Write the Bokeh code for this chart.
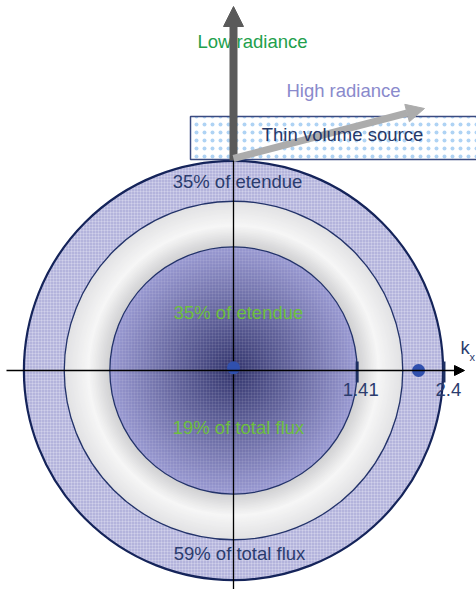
import numpy as np
from bokeh.plotting import figure
from bokeh.models import Range1d, Arrow, NormalHead, Label
from bokeh.core.properties import value
from bokeh.embed import file_html
from bokeh.resources import INLINE

# ---- data ----
ring_radii = [1.41, 1.93, 2.39]          # inner disk, middle ring, outer ring (k units)
tick_vals = [1.41, 2.4]
tick_labels = ["1.41", "2.4"]
dot_k = [0.0, 2.11]
inner_labels = ["35% of etendue", "19% of total flux"]
outer_labels = ["35% of etendue", "59% of total flux"]
arrow_labels = ["Low radiance", "High radiance"]
source_label = "Thin volume source"
axis_label = "k"
axis_sub = "x"

# ---- layout helpers (pixel -> data) ----
W, H = 476, 589
S = 87.7
CX, CY = 233.0, 370.0
def px(x): return (x - CX) / S
def py(y): return (CY - y) / S

FONT = value("Liberation Sans")
FS = "18.5px"
NAVY = "#2b3c6e"
GREEN_D = "#22a04c"
GREEN_L = "#6cbf3e"

p = figure(width=W, height=H, x_range=Range1d(px(0), px(W)), y_range=Range1d(py(H), py(0)),
           output_backend="svg", toolbar_location=None, min_border=0,
           x_axis_location=None, y_axis_location=None)
p.grid.visible = False
p.outline_line_color = None
p.background_fill_color = "white"
p.border_fill_color = "white"

r_in, r_mid, r_out = ring_radii

def lerp(c1, c2, t):
    return "#%02x%02x%02x" % tuple(int(round(a + (b - a) * t)) for a, b in zip(c1, c2))

# outer ring
p.circle(x=0, y=0, radius=r_out, fill_color="#b4b4dc", line_color=None,
         hatch_pattern="cross", hatch_color="white", hatch_alpha=0.22, hatch_scale=3, hatch_weight=1)

# middle ring gradient (light gray)
n = 30
rs = np.linspace(r_mid, r_in, n)
cols = []
for r in rs:
    if r > 1.66:
        t = (r_mid - r) / (r_mid - 1.66)
        cols.append(lerp((226, 226, 228), (246, 246, 246), t))
    else:
        t = (1.66 - r) / (1.66 - r_in)
        cols.append(lerp((246, 246, 246), (206, 206, 208), t))
p.circle(x=[0] * n, y=[0] * n, radius=list(rs), fill_color=cols, line_color=None)

# inner disk gradient
n2 = 45
rs2 = np.linspace(r_in, 0.02, n2)
cols2 = [lerp((50, 52, 108), (152, 152, 208), (r / r_in) ** 1.0) for r in rs2]
p.circle(x=[0] * n2, y=[0] * n2, radius=list(rs2), fill_color=cols2, line_color=None)
p.circle(x=0, y=0, radius=r_in, fill_color=None, line_color=None,
         hatch_pattern="cross", hatch_color="white", hatch_alpha=0.08, hatch_scale=3, hatch_weight=1)

# circle outlines
p.circle(x=[0, 0, 0], y=[0, 0, 0], radius=ring_radii, fill_color=None,
         line_color=["#23336a", "#23336a", "#15245a"], line_width=[1.3, 1.3, 2.2])

# axes
p.segment(x0=[0], y0=[py(160)], x1=[0], y1=[py(H + 2)], line_color="black", line_width=1.3)
p.add_layout(Arrow(x_start=px(6), y_start=0, x_end=px(464), y_end=0, line_color="black", line_width=1.3,
                   end=NormalHead(size=10, fill_color="black", line_color="black", line_width=1)))

# ticks
p.segment(x0=tick_vals, y0=[py(361)] * 2, x1=tick_vals, y1=[py(382)] * 2, line_color="#1d2f62", line_width=3)

# dots
p.scatter(x=dot_k, y=[0.03, 0.0], size=13, fill_color="#3050ae", line_color=None)

# source box
p.quad(left=px(190), right=px(482), top=py(116), bottom=py(159), fill_color="white",
       line_color="#3a4a80", line_width=1.5,
       hatch_pattern="dot", hatch_color="#94c4f0", hatch_alpha=0.75, hatch_scale=8, hatch_weight=1.2)

# texts under arrows
p.text(x=[px(252), px(343)], y=[py(41), py(90)], text=arrow_labels, text_color=[GREEN_D, "#8a8acc"],
       text_font=FONT, text_font_size=FS, text_align="center", text_baseline="middle")
p.text(x=[px(238), px(238)], y=[py(312), py(427)], text=inner_labels, text_color=GREEN_L,
       text_font=FONT, text_font_size=FS, text_align="center", text_baseline="middle")
p.text(x=[px(237), px(239)], y=[py(181), py(553)], text=outer_labels, text_color=NAVY,
       text_font=FONT, text_font_size=FS, text_align="center", text_baseline="middle")
p.text(x=[v + d for v, d in zip(tick_vals, [0.04, 0.05])], y=[py(389)] * 2, text=tick_labels, text_color=NAVY,
       text_font=FONT, text_font_size=FS, text_align="center", text_baseline="middle")
p.text(x=[px(460)], y=[py(347)], text=[axis_label], text_color=NAVY,
       text_font=FONT, text_font_size=FS, text_align="left", text_baseline="middle")
p.text(x=[px(469)], y=[py(356)], text=[axis_sub], text_color=NAVY,
       text_font=FONT, text_font_size="11px", text_align="left", text_baseline="middle")

# arrows
p.add_layout(Arrow(x_start=0, y_start=py(160), x_end=0, y_end=py(6), line_color="#5a5a5a", line_width=8,
                   end=NormalHead(size=20, fill_color="#5a5a5a", line_color="#5a5a5a", line_width=1)))
p.add_layout(Arrow(x_start=0, y_start=py(158), x_end=px(424), y_end=py(108), line_color="#acacac", line_width=7,
                   end=NormalHead(size=18, fill_color="#acacac", line_color="#acacac", line_width=1)))

p.add_layout(Label(x=px(342), y=py(134), text=source_label, text_color="#263868", text_font="Liberation Sans",
                   text_font_size=FS, text_align="center", text_baseline="middle"))

open("out.html", "w").write(file_html(p, INLINE))
